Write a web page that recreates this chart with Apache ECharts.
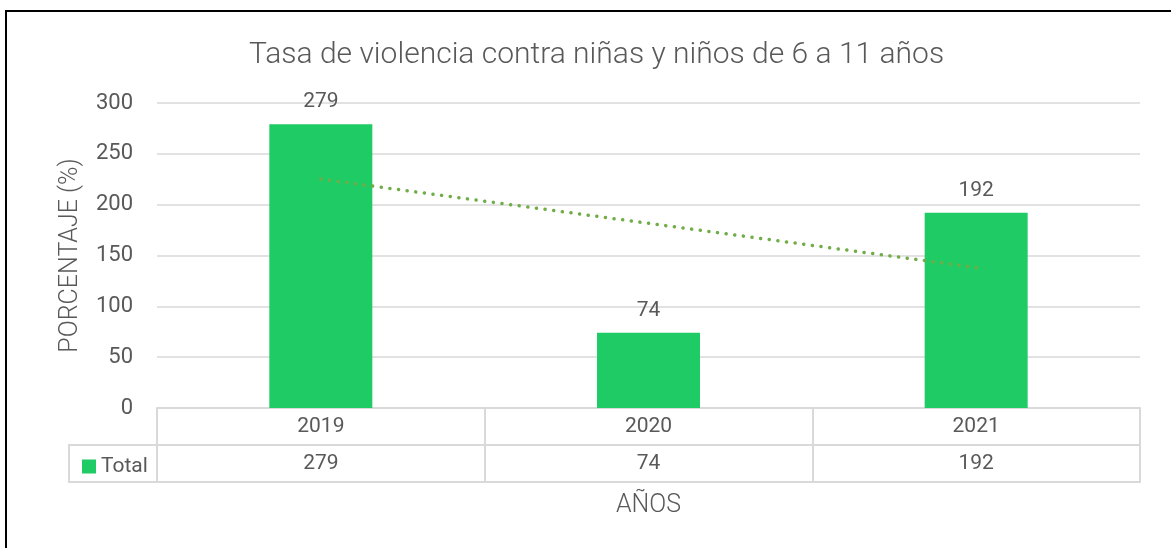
<!DOCTYPE html>
<html>
<head>
<meta charset="utf-8">
<script src="https://cdn.jsdelivr.net/npm/echarts@6/dist/echarts.min.js"></script>
<style>
  html, body { margin: 0; padding: 0; background: #fff; }
  #chart { width: 1171px; height: 548px; }
</style>
</head>
<body>
<div id="chart"></div>
<script>
const years = ['2019', '2020', '2021'];
const totals = [279, 74, 192];
const yTicks = [0, 50, 100, 150, 200, 250, 300];

// linear trendline (least squares over category index), like Excel's
function trend(vals) {
  const n = vals.length;
  let sx = 0, sy = 0, sxy = 0, sxx = 0;
  vals.forEach((v, i) => { sx += i; sy += v; sxy += i * v; sxx += i * i; });
  const b = (n * sxy - sx * sy) / (n * sxx - sx * sx);
  const a = (sy - b * sx) / n;
  return vals.map((v, i) => a + b * i);
}

const textColor = '#595959';
const lineColor = '#D9D9D9';
const font = 'Roboto';

const chart = echarts.init(document.getElementById('chart'));

chart.setOption({
  animation: false,
  textStyle: { fontFamily: font },
  title: {
    text: 'Tasa de violencia contra niñas y niños de 6 a 11 años',
    left: 244,
    top: 35,
    textStyle: { color: textColor, fontSize: 30, fontWeight: 300, fontFamily: font }
  },
  legend: {
    data: ['Total'],
    left: 77,
    top: 451,
    icon: 'rect',
    itemWidth: 14,
    itemHeight: 14,
    textStyle: { color: textColor, fontSize: 21, fontFamily: font }
  },
  grid: { left: 157, right: 31, top: 103, bottom: 140 },
  xAxis: [
    {
      type: 'category',
      data: years,
      boundaryGap: true,
      axisLine: { show: true, lineStyle: { color: lineColor, width: 2 } },
      axisTick: { show: true, length: 74, lineStyle: { color: lineColor, width: 2 } },
      axisLabel: {
        margin: 0,
        interval: 0,
        formatter: function (val, idx) {
          return '{a|' + val + '}\n{b|' + totals[idx] + '}';
        },
        rich: {
          a: { fontSize: 21, color: textColor, lineHeight: 37, fontFamily: font },
          b: { fontSize: 21, color: textColor, lineHeight: 37, fontFamily: font }
        }
      },
      name: 'AÑOS',
      nameLocation: 'middle',
      nameGap: 85,
      nameTextStyle: { color: textColor, fontSize: 25, fontWeight: 300, fontFamily: font }
    },
    {
      type: 'category',
      data: years,
      position: 'bottom',
      offset: 37,
      axisLine: { show: true, lineStyle: { color: lineColor, width: 2 } },
      axisTick: { show: false },
      axisLabel: { show: false }
    },
    {
      type: 'category',
      data: years,
      position: 'bottom',
      offset: 74,
      axisLine: { show: true, lineStyle: { color: lineColor, width: 2 } },
      axisTick: { show: false },
      axisLabel: { show: false }
    }
  ],
  yAxis: {
    type: 'value',
    min: yTicks[0],
    max: yTicks[yTicks.length - 1],
    interval: 50,
    axisLine: { show: false },
    axisTick: { show: false },
    splitLine: { lineStyle: { color: lineColor, width: 1.5 } },
    axisLabel: { color: textColor, fontSize: 22, margin: 24, fontFamily: font },
    name: 'PORCENTAJE (%)',
    nameLocation: 'middle',
    nameGap: 74,
    nameTextStyle: { color: textColor, fontSize: 25, fontWeight: 300, fontFamily: font }
  },
  series: [
    {
      name: 'Total',
      type: 'bar',
      data: totals,
      barWidth: 103,
      itemStyle: { color: '#1ECB64' },
      label: {
        show: true,
        position: 'top',
        distance: 12,
        color: textColor,
        fontSize: 21,
        fontFamily: font
      },
      z: 2
    },
    {
      name: 'Tendencia',
      type: 'line',
      data: trend(totals),
      symbol: 'none',
      lineStyle: { color: '#70AD47', width: 3.5, type: [0.1, 8.6], cap: 'round' },
      z: 5
    }
  ],
  graphic: [
    {
      type: 'rect',
      shape: { x: 69, y: 445, width: 88, height: 37 },
      style: { fill: 'none', stroke: lineColor, lineWidth: 2 },
      z: -1
    },
    {
      type: 'polyline',
      shape: { points: [[6, 548], [6, 11], [1171, 11]] },
      style: { fill: 'none', stroke: '#000', lineWidth: 2 }
    }
  ]
});
</script>
</body>
</html>
